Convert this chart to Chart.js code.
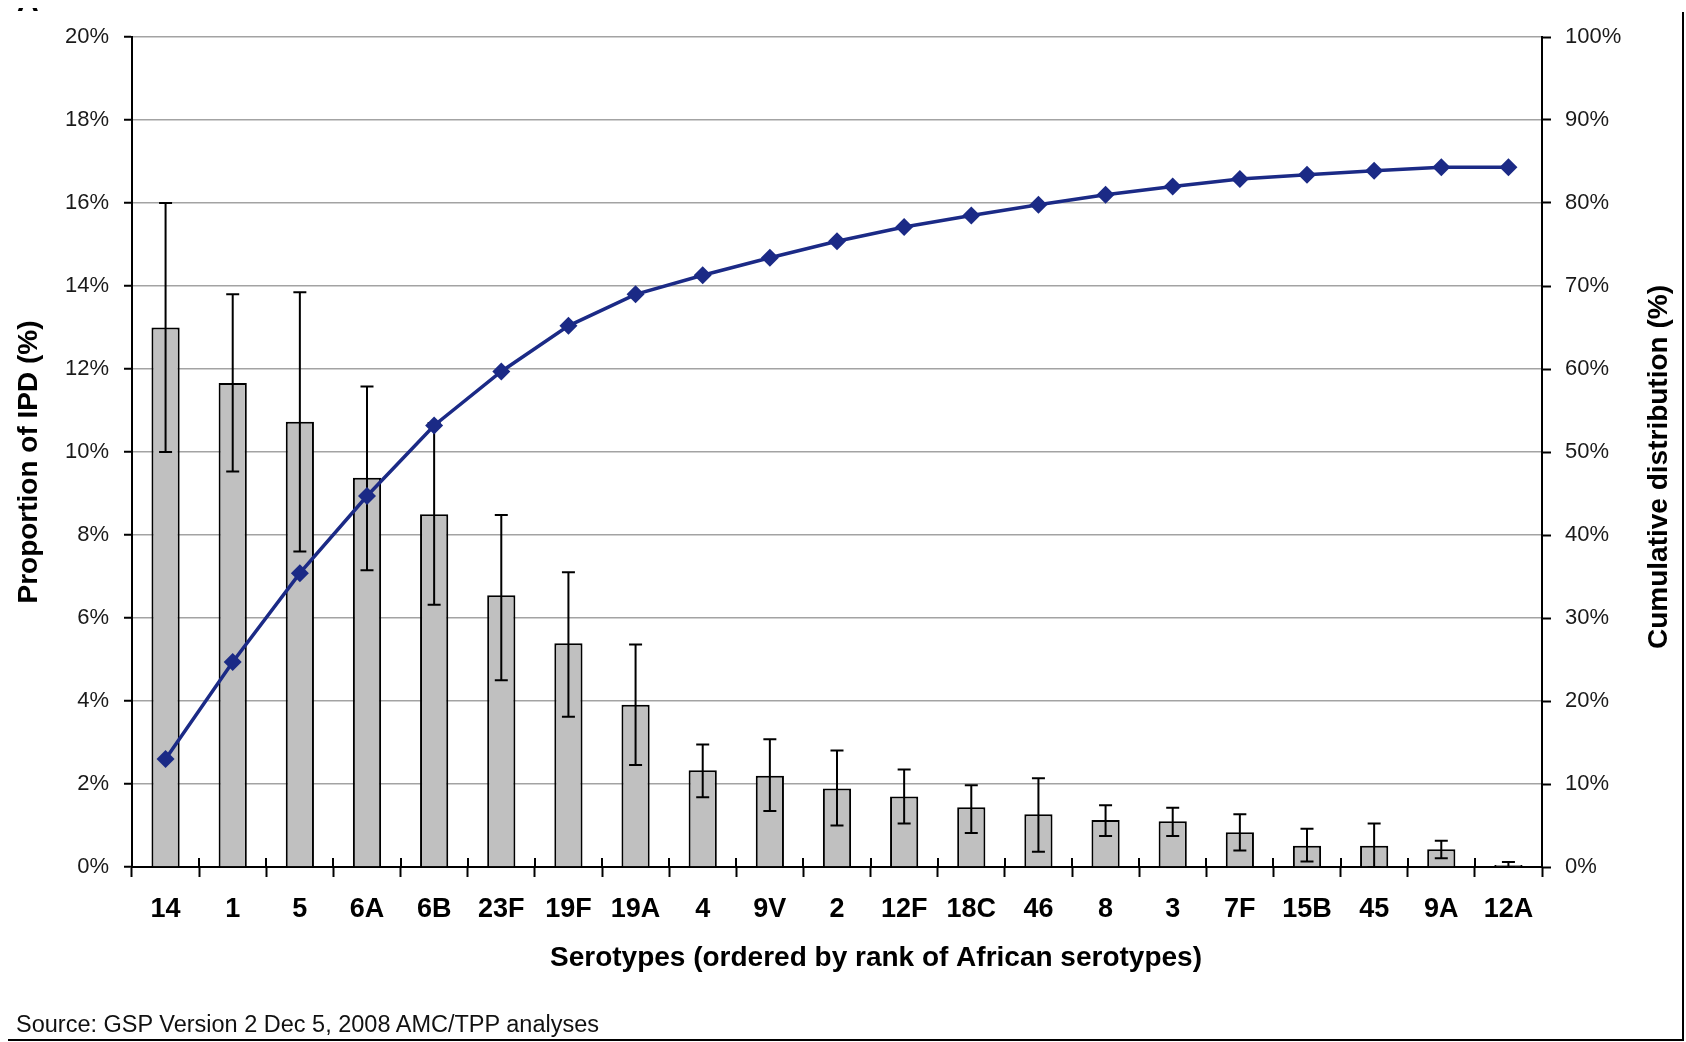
<!DOCTYPE html>
<html>
<head>
<meta charset="utf-8">
<script src="https://cdn.jsdelivr.net/npm/chart.js@4.4.0/dist/chart.umd.min.js"></script>
<style>
  html, body { margin: 0; padding: 0; background: #fff; width: 1686px; height: 1042px; overflow: hidden; }
  #wrap { position: relative; width: 1686px; height: 1042px; }
  #c { position: absolute; left: 0; top: 0; }
  #frame { position: absolute; left: 8px; top: 12px; width: 1674px; height: 1027px;
           border-right: 2px solid #000; border-bottom: 2px solid #000; pointer-events: none; }
  #src { position: absolute; left: 16px; top: 1011px; font: 23.5px "Liberation Sans", Arial, sans-serif;
         color: #111; white-space: nowrap; line-height: 27px; }
  #panel { position: absolute; left: 17px; top: 8px; height: 10px; width: 30px; overflow: hidden; }
  #panel span { position: absolute; left: 0; top: -22px; font: bold 30px "Liberation Sans", Arial, sans-serif;
                line-height: 30px; color: #000; }
</style>
</head>
<body>
<div id="wrap">
  <canvas id="c" width="1686" height="1042"></canvas>
  <div id="panel"><span>A</span></div>
  <div id="frame"></div>
  <div id="src">Source: GSP Version 2 Dec 5, 2008 AMC/TPP analyses</div>
</div>
<script>
// ---- data ----
const serotypes = ['14','1','5','6A','6B','23F','19F','19A','4','9V','2','12F','18C','46','8','3','7F','15B','45','9A','12A'];
const proportion = [13.0, 11.66, 10.73, 9.38, 8.5, 6.55, 5.39, 3.91, 2.33, 2.2, 1.89, 1.7, 1.44, 1.27, 1.13, 1.1, 0.84, 0.51, 0.51, 0.43, 0.05];
const errLow  = [10.0, 9.53, 7.6, 7.15, 6.32, 4.5, 3.62, 2.46, 1.68, 1.35, 1.0, 1.05, 0.82, 0.37, 0.75, 0.75, 0.4, 0.13, 0.0, 0.21, 0.0];
const errHigh = [16.0, 13.8, 13.85, 11.58, 10.7, 8.48, 7.1, 5.36, 2.95, 3.08, 2.81, 2.35, 1.97, 2.14, 1.49, 1.43, 1.27, 0.92, 1.05, 0.63, 0.12];
const cumulative = [13.0, 24.7, 35.4, 44.7, 53.2, 59.7, 65.2, 69.0, 71.3, 73.4, 75.4, 77.1, 78.5, 79.8, 81.0, 82.0, 82.9, 83.4, 83.9, 84.3, 84.3];
const leftTicks  = [0, 2, 4, 6, 8, 10, 12, 14, 16, 18, 20];
const rightTicks = [0, 10, 20, 30, 40, 50, 60, 70, 80, 90, 100];
const leftTitle  = 'Proportion of IPD (%)';
const rightTitle = 'Cumulative distribution (%)';
const xTitle     = 'Serotypes (ordered by rank of African serotypes)';

const FONT = '"Liberation Sans", Arial, sans-serif';
const NAVY = '#1b2a86';

const errorBars = {
  id: 'errorBars',
  afterDatasetDraw(chart, args) {
    if (args.index !== 1) return;
    const ctx = chart.ctx, ys = chart.scales.y, meta = chart.getDatasetMeta(1);
    ctx.save();
    ctx.strokeStyle = '#000';
    ctx.lineWidth = 2;
    meta.data.forEach((bar, i) => {
      const x = bar.x, yh = ys.getPixelForValue(errHigh[i]), yl = ys.getPixelForValue(errLow[i]);
      ctx.beginPath();
      ctx.moveTo(x, yh); ctx.lineTo(x, yl);
      ctx.moveTo(x - 6.5, yh); ctx.lineTo(x + 6.5, yh);
      ctx.moveTo(x - 6.5, yl); ctx.lineTo(x + 6.5, yl);
      ctx.stroke();
    });
    ctx.restore();
  }
};

const innerTicks = {
  id: 'innerTicks',
  beforeDatasetsDraw(chart) {
    const ctx = chart.ctx, xs = chart.scales.x, b = chart.chartArea.bottom;
    ctx.save();
    ctx.strokeStyle = '#000';
    ctx.lineWidth = 2;
    ctx.beginPath();
    for (let i = 1; i < serotypes.length; i++) {
      const x = Math.round((xs.getPixelForValue(i - 1) + xs.getPixelForValue(i)) / 2);
      ctx.moveTo(x, b - 9); ctx.lineTo(x, b);
    }
    ctx.stroke();
    ctx.restore();
  }
};

const axisTitles = {
  id: 'axisTitles',
  afterDraw(chart) {
    const ctx = chart.ctx, a = chart.chartArea;
    const midY = (a.top + a.bottom) / 2;
    ctx.save();
    ctx.fillStyle = '#000';
    ctx.font = 'bold 28px ' + FONT;
    ctx.textAlign = 'center';
    ctx.textBaseline = 'middle';
    // left
    ctx.save(); ctx.translate(a.left - 103, midY + 10); ctx.rotate(-Math.PI / 2);
    ctx.fillText(leftTitle, 0, 0); ctx.restore();
    // right
    ctx.save(); ctx.translate(a.right + 117, midY + 15); ctx.rotate(-Math.PI / 2);
    ctx.fillText(rightTitle, 0, 0); ctx.restore();
    // bottom
    ctx.fillText(xTitle, (a.left + a.right) / 2 + 39, a.bottom + 91);
    ctx.restore();
  }
};

new Chart(document.getElementById('c'), {
  data: {
    labels: serotypes,
    datasets: [
      {
        type: 'line', label: 'Cumulative', data: cumulative, yAxisID: 'y1',
        borderColor: NAVY, backgroundColor: NAVY, borderWidth: 3.5, tension: 0,
        pointStyle: 'rectRot', pointRadius: 9, pointBorderWidth: 0,
        pointBackgroundColor: NAVY
      },
      {
        type: 'bar', label: 'Proportion', data: proportion, yAxisID: 'y',
        backgroundColor: '#c0c0c0', borderColor: '#000', borderWidth: 2,
        barPercentage: 0.42, categoryPercentage: 1
      }
    ]
  },
  options: {
    responsive: false, animation: false, devicePixelRatio: 1,
    layout: { padding: { top: 37, bottom: 65, left: 0, right: 0 } },
    plugins: { legend: { display: false }, tooltip: { enabled: false } },
    scales: {
      x: {
        offset: true,
        grid: { offset: true, drawOnChartArea: false, drawTicks: true, tickLength: 10,
                tickColor: '#000', tickWidth: 2, color: '#000' },
        border: { display: true, color: '#000', width: 2 },
        ticks: { font: { family: FONT, size: 27, weight: 'bold' }, color: '#000', padding: 16,
                 maxRotation: 0, autoSkip: false },
        afterFit(s) { s.height = 110; }
      },
      y: {
        position: 'left', min: 0, max: 20,
        afterBuildTicks(s) { s.ticks = leftTicks.map(v => ({ value: v })); },
        grid: { color: '#a3a3a3', lineWidth: 1.5, tickLength: 8, tickColor: '#000', tickWidth: 2 },
        border: { color: '#000', width: 2 },
        ticks: { callback: v => v + '%', font: { family: FONT, size: 22 }, color: '#1a1a1a', padding: 15 },
        afterFit(s) { s.width = 132; }
      },
      y1: {
        position: 'right', min: 0, max: 100,
        afterBuildTicks(s) { s.ticks = rightTicks.map(v => ({ value: v })); },
        grid: { drawOnChartArea: false, tickLength: 9, tickColor: '#000', tickWidth: 2 },
        border: { color: '#000', width: 2 },
        ticks: { callback: v => v + '%', font: { family: FONT, size: 22 }, color: '#1a1a1a', padding: 14 },
        afterFit(s) { s.width = 144; }
      }
    }
  },
  plugins: [errorBars, innerTicks, axisTitles]
});
</script>
</body>
</html>
